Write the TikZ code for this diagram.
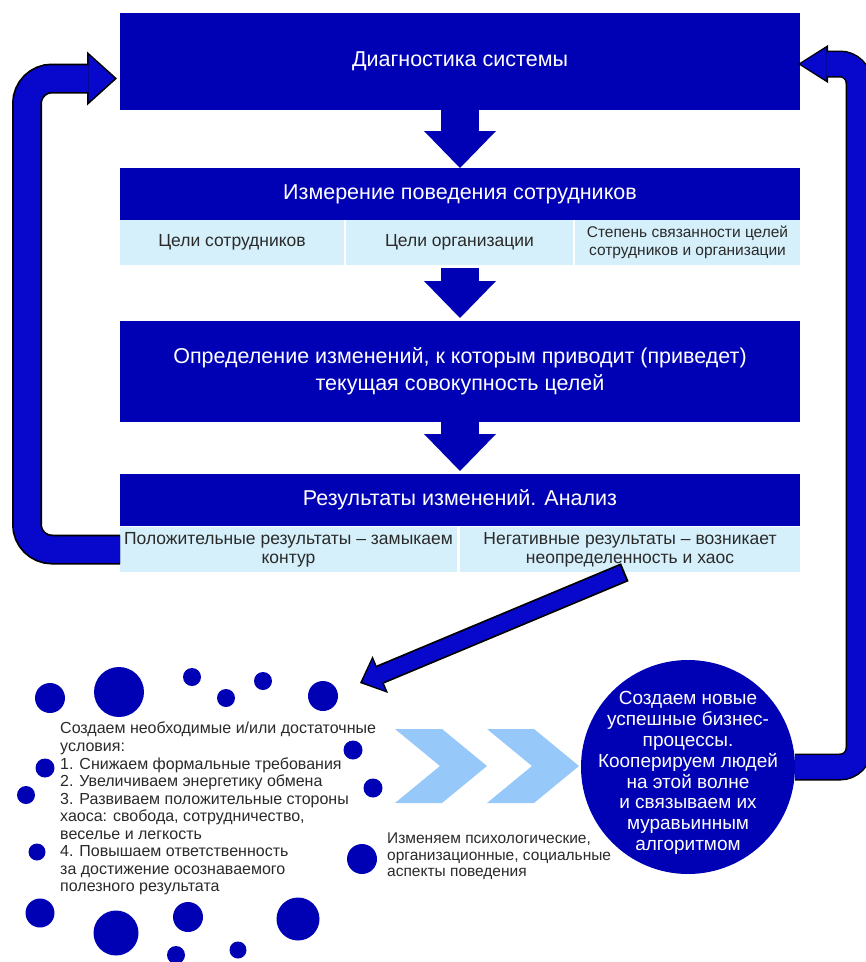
\documentclass[tikz,border=0pt]{standalone}
\usepackage{fontspec}
\setmainfont{Liberation Sans}
\usetikzlibrary{positioning,arrows.meta,calc}
\definecolor{dgblue}{HTML}{0000B4}
\definecolor{lpblue}{HTML}{0808CC}
\definecolor{cellcyan}{HTML}{D5F0FB}
\definecolor{chevblue}{HTML}{96C8FA}
\definecolor{txtgray}{HTML}{2A2A2A}
\tikzset{
  headbox/.style  ={fill=dgblue, text=white, minimum width=680pt, inner sep=0pt, outer sep=0pt,
                    align=center, font=\fontsize{21.5}{27}\selectfont},
  subcell/.style  ={fill=cellcyan, text=txtgray, minimum height=45pt, inner sep=0pt, outer sep=0pt,
                    align=center, font=\fontsize{17.5}{19}\selectfont},
  flowarrow/.style={dgblue, line width=38pt, -{Triangle[length=37pt,width=72pt,line width=0pt]}},
  blob/.style     ={circle, fill=dgblue, inner sep=0pt},
  chev/.style     ={fill=chevblue},
  note/.style     ={text=txtgray, align=left, inner sep=0pt, anchor=north west},
  circtxt/.style  ={text=white, align=center, inner sep=0pt, yshift=-6pt,
                    font=\fontsize{19}{20.8}\selectfont},
}

\begin{document}
\begin{tikzpicture}[x=1pt,y=-1pt]
  \useasboundingbox (0,0) rectangle (866,962);
  \clip (0,0) rectangle (866,962);
  \fill[white] (0,0) rectangle (866,962);

  % chaos dots
  \foreach \px/\py/\dd [count=\i] in {50/698/30, 119/692/50, 192/677/18, 226/698/18, 263/681/18,
      323/696/30, 353/750/19, 373/788/19, 45/768/19, 26/795/18, 37/852/17, 362/859/30,
      40/913/29, 116/933/45, 188/917/30, 298/919/43, 176/955/18, 238/950/17}
    \node[blob, minimum size=\dd pt] (blob\i) at (\px,\py) {};

  \node[note, font=\fontsize{16}{17.55}\selectfont] (steps) at (60,722)
    {Создаем необходимые и/или достаточные\\условия:\\1. Снижаем формальные требования\\
     2. Увеличиваем энергетику обмена\\3. Развиваем положительные стороны\\
     хаоса: свобода, сотрудничество,\\веселье и легкость\\4. Повышаем ответственность\\
     за достижение осознаваемого\\полезного результата};

  % chevrons
  \foreach \cx in {395,487}
    \fill[chev] (\cx,729) -- ++(47,0) -- ++(45,37) -- ++(-45,37) -- ++(-47,0) -- ++(45,-37) -- cycle;
  \node[note, font=\fontsize{15.5}{16.2}\selectfont] (aspects) at (387,833)
    {Изменяем психологические,\\организационные, социальные\\аспекты поведения};

  % main column
  \node[headbox, minimum height=97pt] (diag) at (460,61.5) {Диагностика системы};
  \node[headbox, minimum height=52pt] (meas) at (460,194) {Измерение поведения сотрудников};
  \node[subcell, minimum width=224pt, below right=0pt and 0pt of meas.south west] (goalsE) {Цели сотрудников};
  \node[subcell, minimum width=227pt, right=2pt of goalsE] (goalsO) {Цели организации};
  \node[subcell, minimum width=225pt, right=2pt of goalsO, font=\fontsize{15.5}{18}\selectfont] (goalsLink)
    {Степень связанности целей\\сотрудников и организации};
  \node[headbox, minimum height=101pt] (chg) at (460,371.5)
    {Определение изменений, к которым приводит (приведет)\\текущая совокупность целей};
  \node[headbox, minimum height=52pt] (res) at (460,500) {Результаты изменений. Анализ};
  \node[subcell, minimum width=337pt, below right=1pt and 0pt of res.south west] (posRes)
    {Положительные результаты – замыкаем\\контур};
  \node[subcell, minimum width=340pt, right=3pt of posRes] (negRes)
    {Негативные результаты – возникает\\неопределенность и хаос};

  \draw[flowarrow] (diag.south) -- (meas.north);
  \draw[flowarrow, shorten <=3pt, shorten >=3pt] (meas.center |- goalsO.south) -- (chg.north);
  \draw[flowarrow, shorten >=3pt] (chg.south) -- (res.north);

  % new processes
  \node[circle, fill=dgblue, minimum size=214pt, inner sep=0pt,
        label={[circtxt]center:Создаем новые\\успешные бизнес-\\процессы.\\Кооперируем людей\\на этой волне\\и связываем их\\муравьинным\\алгоритмом}]
        (newProc) at (688,767) {};

  % loop back, left
  \coordinate (lpTip) at ($(diag.west)+(-3,17)$);
  \draw[black, line width=30pt, rounded corners=25pt,
        -{Triangle[length=30pt,width=54pt,line width=0pt]}]
    (posRes.west) -| ($(lpTip)+(-90,0)$) -- (lpTip);
  \draw[lpblue, line width=26.5pt, rounded corners=25pt, shorten >=2.5pt,
        -{Triangle[length=26pt,width=47pt,line width=0pt]}]
    (posRes.west) -| ($(lpTip)+(-90,0)$) -- (lpTip);

  % loop back, right
  \coordinate (rpTip) at ($(diag.east)+(-2,2.5)$);
  \draw[black, line width=27pt, rounded corners=19pt,
        -{Triangle[length=30pt,width=38pt,line width=0pt]}]
    (newProc.east) -| ($(rpTip)+(61,0)$) -- (rpTip);
  \draw[lpblue, line width=24pt, rounded corners=19pt, shorten >=2.3pt,
        -{Triangle[length=26pt,width=32.5pt,line width=0pt]}]
    (newProc.east) -| ($(rpTip)+(61,0)$) -- (rpTip);

  % into chaos
  \coordinate (chaosTip) at (360,683);
  \draw[black, line width=19.5pt, shorten <=-2pt,
        -{Triangle[length=22pt,width=40pt,line width=0pt]}]
    ($(negRes.south)+(-7,1)$) -- (chaosTip);
  \draw[lpblue, line width=16pt, shorten >=2.5pt,
        -{Triangle[length=18pt,width=34pt,line width=0pt]}]
    ($(negRes.south)+(-7,1)$) -- (chaosTip);
\end{tikzpicture}
\end{document}
